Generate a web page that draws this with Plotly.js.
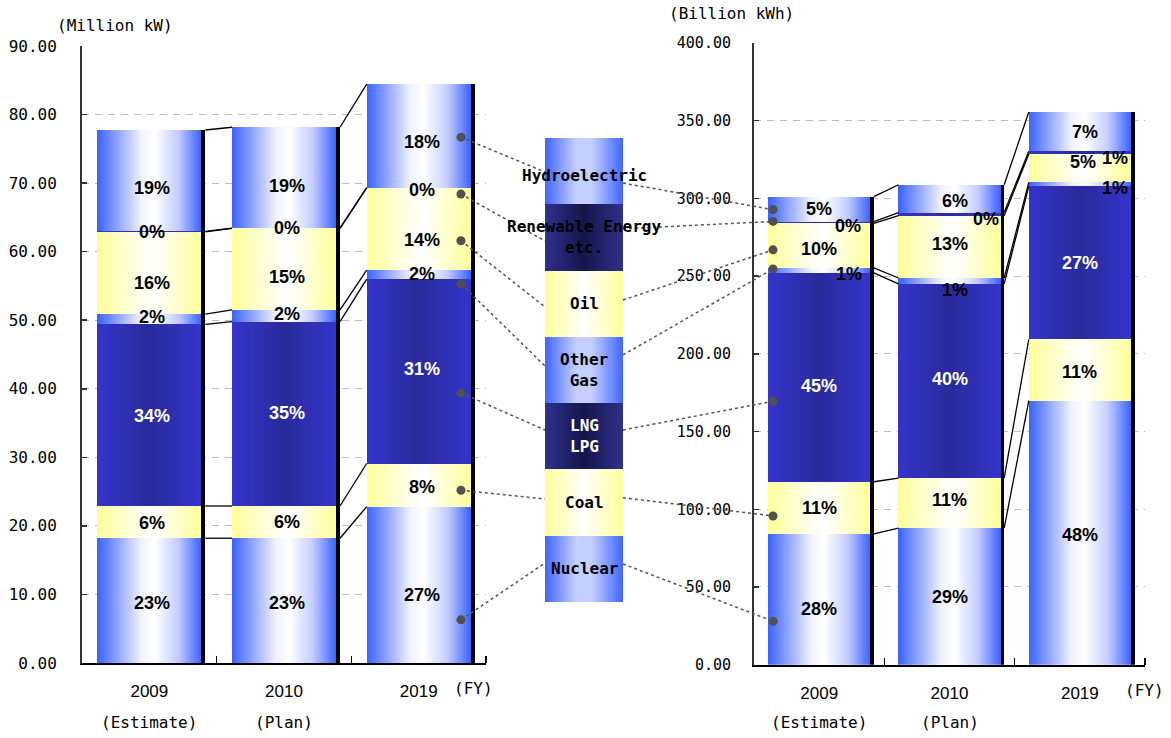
<!DOCTYPE html>
<html><head><meta charset="utf-8">
<script src="https://cdn.plot.ly/plotly-3.0.1.min.js"></script>
<style>html,body{margin:0;padding:0;background:#fff;} #chart{width:1171px;height:738px;}</style>
</head><body><div id="chart"></div>
<script>
// ---------- DATA ----------
const years = ['2009', '2010', '2019'];
const yearNotes = ['(Estimate)', '(Plan)', ''];
const sources = ['Nuclear', 'Coal', 'LNG/LPG', 'Other Gas', 'Oil', 'Renewable Energy etc.', 'Hydroelectric'];
const legendLabels = ['Nuclear', 'Coal', 'LNG<br>LPG', 'Other<br>Gas', 'Oil', 'Renewable Energy<br>etc.', 'Hydroelectric'];

// Capacity (Million kW)
const capNuclear  = [18.2, 18.2, 22.8];
const capCoal     = [4.7, 4.7, 6.3];
const capLNG      = [26.5, 26.9, 26.9];
const capOtherGas = [1.5, 1.7, 1.3];
const capOil      = [12.0, 11.9, 12.0];
const capRenew    = [0.05, 0.05, 0.05];
const capHydro    = [14.8, 14.7, 15.1];
const capPct = [
  ['23%', '23%', '27%'], ['6%', '6%', '8%'], ['34%', '35%', '31%'], ['2%', '2%', '2%'],
  ['16%', '15%', '14%'], ['0%', '0%', '0%'], ['19%', '19%', '18%']
];

// Generation (Billion kWh)
const genNuclear  = [84.1, 87.8, 169.9];
const genCoal     = [33.6, 32.3, 39.5];
const genLNG      = [134.4, 124.9, 98.5];
const genOtherGas = [3.2, 3.8, 2.4];
const genOil      = [28.7, 40.1, 18.3];
const genRenew    = [1.1, 2.0, 1.7];
const genHydro    = [16.1, 17.9, 25.3];
const genPct = [
  ['28%', '29%', '48%'], ['11%', '11%', '11%'], ['45%', '40%', '27%'], ['1%', '1%', '1%'],
  ['10%', '13%', '5%'], ['0%', '0%', '1%'], ['5%', '6%', '7%']
];

// ---------- STYLE / LAYOUT CONFIG ----------
const W = 1171, H = 738;
const gradOf    = ['blue', 'yellow', 'navy', 'blue', 'yellow', 'navy', 'blue'];
const legGradOf = ['legBlue', 'legYellow', 'legNavy', 'legBlue', 'legYellow', 'legNavy', 'legBlue'];
const fallback  = {blue: '#9fb0ff', yellow: '#ffffcc', navy: '#2f2fb4', legBlue: '#8fa5ff', legYellow: '#ffffcc', legNavy: '#222266'};
const gradients = {
  blue:      [[0, '#3B62FF'], [0.42, '#F0F2FF'], [0.55, '#FFFFFF'], [0.78, '#C3CCFF'], [1, '#3B62FF']],
  yellow:    [[0, '#FFFF99'], [0.45, '#FFFFF3'], [0.55, '#FFFFFF'], [1, '#FFFF99']],
  navy:      [[0, '#3434CC'], [0.5, '#2A2A9C'], [1, '#3434CC']],
  legBlue:   [[0, '#4066FF'], [0.4, '#C4CEFF'], [0.6, '#C4CEFF'], [1, '#4066FF']],
  legYellow: [[0, '#FFFF99'], [0.5, '#FFFFFF'], [1, '#FFFF99']],
  legNavy:   [[0, '#30308E'], [0.5, '#15154A'], [1, '#30308E']]
};
const pctColor = ['#000', '#000', '#fff', '#000', '#000', '#000', '#000'];
const pctFont = 'Liberation Sans Narrow, Arial Narrow, Arial, sans-serif';

// label nudges in px (dx right, dy down)
const capNudgeX = [[3,3,3],[3,3,3],[3,3,3],[3,3,3],[3,3,3],[3,3,3],[3,3,3]];
const capNudgeY = [[2,2,10],[1,0,2],[1,-1,-2],[-2,-2,-1],[10,8,11],[0,0,2],[7,8,6]];
const genNudgeX = [[0,0,0],[0,0,0],[0,0,0],[30,5,35],[0,0,3],[29,36,35],[0,5,5]];
const genNudgeY = [[10,1,2],[0,-3,2],[9,-2,0],[4,9,4],[3,-3,-6],[4,5,5],[0,2,0]];

// leader dots (value positions) and legend anchors (legend-axis units)
const leftDotX = 2.314, rightDotX = -0.354;
const leftDotY  = [6.3, 25.2, 39.4, 55.3, 61.6, 68.4, 76.7];
const rightDotY = [28, 95.7, 169.5, 254.6, 266.9, 285.2, 292.8];
const legAnchorL = [0.588, 1.554, 2.595, 3.56, 4.451, 5.446, 6.487];
const legAnchorR = [0.574, 1.574, 2.595, 3.727, 4.556, 5.63, 6.32];

const capSeries = [capNuclear, capCoal, capLNG, capOtherGas, capOil, capRenew, capHydro];
const genSeries = [genNuclear, genCoal, genLNG, genOtherGas, genOil, genRenew, genHydro];

const dom = {
  x:  [82 / W, 486 / W],   y:  [(H - 663) / H, (H - 46) / H],
  x2: [754 / W, 1145 / W], y2: [(H - 664.7) / H, (H - 43) / H],
  x3: [545 / W, 623 / W],  y3: [(H - 602) / H, (H - 138) / H]
};
const rng = {x: [-0.5, 2.5], y: [0, 90], x2: [-0.5, 2.5], y2: [0, 400], x3: [-0.5, 0.5], y3: [0, 7]};
function toPaper(ax, v) { const d = dom[ax], r = rng[ax]; return d[0] + (v - r[0]) / (r[1] - r[0]) * (d[1] - d[0]); }

const data = [];
const annotations = [];
const shapes = [];

function buildChart(series, pct, xa, ya, barW, shW, nx, ny) {
  const cum = [0, 0, 0];
  const bounds = [];
  series.forEach((vals, s) => {
    data.push({
      type: 'bar', x: [0, 1, 2], y: vals, base: cum.slice(), width: barW,
      xaxis: xa, yaxis: ya, meta: gradOf[s], name: sources[s],
      marker: {color: fallback[gradOf[s]], line: {width: 0}}, hoverinfo: 'skip', showlegend: false
    });
    for (let i = 0; i < 3; i++) {
      annotations.push({
        xref: xa, yref: ya, x: i, y: cum[i] + vals[i] / 2, text: pct[s][i], showarrow: false,
        xshift: nx[s][i], yshift: -ny[s][i],
        font: {family: pctFont, size: 18, weight: 'bold', color: pctColor[s]}
      });
      cum[i] += vals[i];
    }
    bounds.push(cum.slice());
  });
  // shadow strip on the right side of each bar
  data.push({
    type: 'bar', x: [0, 1, 2], y: cum.slice(), base: [0, 0, 0], width: shW, offset: barW / 2,
    xaxis: xa, yaxis: ya, marker: {color: '#000', line: {width: 0}}, hoverinfo: 'skip', showlegend: false
  });
  // connector lines between adjacent bars
  const lx = [], ly = [];
  bounds.forEach(b => {
    for (let i = 0; i < 2; i++) {
      lx.push(i + barW / 2 + shW, i + 1 - barW / 2, null);
      ly.push(b[i], b[i + 1], null);
    }
  });
  data.push({type: 'scatter', mode: 'lines', x: lx, y: ly, xaxis: xa, yaxis: ya,
    line: {color: '#000', width: 1.3}, hoverinfo: 'skip', showlegend: false, cliponaxis: false});
}

buildChart(capSeries, capPct, 'x', 'y', 0.772, 0.03, capNudgeX, capNudgeY);
buildChart(genSeries, genPct, 'x2', 'y2', 0.783, 0.028, genNudgeX, genNudgeY);

// legend column
sources.forEach((name, s) => {
  data.push({
    type: 'bar', x: [0], y: [1], base: [s], width: 1, xaxis: 'x3', yaxis: 'y3',
    meta: legGradOf[s], name: name, marker: {color: fallback[legGradOf[s]], line: {width: 0}},
    hoverinfo: 'skip', showlegend: false
  });
  annotations.push({
    xref: 'x3', yref: 'y3', x: 0, y: s + 0.5, yshift: s === 6 ? -4 : 0, text: legendLabels[s], showarrow: false,
    font: {family: 'DejaVu Sans Mono', size: 16, weight: 'bold', color: s === 2 ? '#fff' : '#000'}
  });
});

// leader dots
data.push({type: 'scatter', mode: 'markers', x: leftDotY.map(() => leftDotX), y: leftDotY, xaxis: 'x', yaxis: 'y',
  marker: {color: '#505050', size: 9}, hoverinfo: 'skip', showlegend: false, cliponaxis: false});
data.push({type: 'scatter', mode: 'markers', x: rightDotY.map(() => rightDotX), y: rightDotY, xaxis: 'x2', yaxis: 'y2',
  marker: {color: '#505050', size: 9}, hoverinfo: 'skip', showlegend: false, cliponaxis: false});

// dotted leader lines
sources.forEach((n, s) => {
  shapes.push({type: 'line', xref: 'paper', yref: 'paper',
    x0: toPaper('x', leftDotX), y0: toPaper('y', leftDotY[s]),
    x1: dom.x3[0], y1: toPaper('y3', legAnchorL[s]),
    line: {color: '#555', width: 1.5, dash: 'dot'}});
  shapes.push({type: 'line', xref: 'paper', yref: 'paper',
    x0: dom.x3[1], y0: toPaper('y3', legAnchorR[s]),
    x1: toPaper('x2', rightDotX), y1: toPaper('y2', rightDotY[s]),
    line: {color: '#555', width: 1.5, dash: 'dot'}});
});

// text annotations: units, year notes, FY
const mono = {family: 'DejaVu Sans Mono', size: 16, color: '#000'};
annotations.push({xref: 'paper', yref: 'paper', x: 55 / W, y: (H - 25) / H, xanchor: 'left', yanchor: 'middle', text: '(Million kW)', showarrow: false, font: mono});
annotations.push({xref: 'paper', yref: 'paper', x: 667 / W, y: (H - 13) / H, xanchor: 'left', yanchor: 'middle', text: '(Billion kWh)', showarrow: false, font: mono});
annotations.push({xref: 'paper', yref: 'paper', x: 473.5 / W, y: (H - 688) / H, xanchor: 'center', yanchor: 'middle', text: '(FY)', showarrow: false, font: mono});
annotations.push({xref: 'paper', yref: 'paper', x: 1144 / W, y: (H - 690) / H, xanchor: 'center', yanchor: 'middle', text: '(FY)', showarrow: false, font: mono});
yearNotes.forEach((t, i) => {
  if (!t) return;
  annotations.push({xref: 'x', yref: 'paper', x: i, y: (H - 722) / H, xanchor: 'center', yanchor: 'middle', text: t, showarrow: false, font: mono});
  annotations.push({xref: 'x2', yref: 'paper', x: i, y: (H - 722) / H, xanchor: 'center', yanchor: 'middle', text: t, showarrow: false, font: mono});
});

function xAxis(d) {
  return {domain: d, range: [-0.5, 2.5], tickmode: 'array', tickvals: [0, 1, 2], ticktext: years,
    ticks: '', showline: true, linecolor: '#000', linewidth: 2, showgrid: false, zeroline: false,
    tickfont: {family: 'Arial', size: 17, color: '#000'}, ticklabelstandoff: 12,
    minor: {tickmode: 'array', tickvals: [0.5, 1.5, 2.5], ticks: 'inside', ticklen: 7, tickcolor: '#000', tickwidth: 1.5, showgrid: false},
    fixedrange: true};
}
function yAxis(d, r, dt, anchor, fs, standoff) {
  return {domain: d, range: r, dtick: dt, tick0: 0, tickformat: '.2f', ticks: 'inside', ticklen: 5,
    tickcolor: '#333', tickwidth: 1.5, showline: true, linecolor: '#333', linewidth: 2,
    showgrid: true, gridcolor: '#BEBEBE', gridwidth: 1, griddash: '7px,6px', zeroline: false,
    tickfont: {family: 'DejaVu Sans Mono', size: fs, color: '#000'}, ticklabelstandoff: standoff,
    anchor: anchor, fixedrange: true};
}

const layout = {
  width: W, height: H, margin: {l: 0, r: 0, t: 0, b: 0},
  paper_bgcolor: '#fff', plot_bgcolor: 'rgba(0,0,0,0)',
  barmode: 'overlay', bargap: 0, showlegend: false,
  xaxis: Object.assign(xAxis(dom.x), {anchor: 'y'}),
  yaxis: yAxis(dom.y, rng.y, 10, 'x', 16, 20),
  xaxis2: Object.assign(xAxis(dom.x2), {anchor: 'y2'}),
  yaxis2: yAxis(dom.y2, rng.y2, 50, 'x2', 15, 18),
  xaxis3: {domain: dom.x3, range: rng.x3, visible: false, anchor: 'y3', fixedrange: true},
  yaxis3: {domain: dom.y3, range: rng.y3, visible: false, anchor: 'x3', fixedrange: true},
  annotations: annotations, shapes: shapes
};

Plotly.newPlot('chart', data, layout, {staticPlot: true, displayModeBar: false}).then(gd => {
  const NS = 'http://www.w3.org/2000/svg';
  const svg = gd.querySelector('svg.main-svg');
  let defs = svg.querySelector('defs');
  if (!defs) { defs = document.createElementNS(NS, 'defs'); svg.insertBefore(defs, svg.firstChild); }
  Object.keys(gradients).forEach(id => {
    const lg = document.createElementNS(NS, 'linearGradient');
    lg.setAttribute('id', 'grad-' + id);
    lg.setAttribute('x1', '0'); lg.setAttribute('y1', '0'); lg.setAttribute('x2', '1'); lg.setAttribute('y2', '0');
    gradients[id].forEach(([o, c]) => {
      const st = document.createElementNS(NS, 'stop');
      st.setAttribute('offset', o); st.setAttribute('stop-color', c);
      lg.appendChild(st);
    });
    defs.appendChild(lg);
  });
  gd.querySelectorAll('g.trace.bars').forEach(g => {
    const cd = g.__data__;
    const tr = cd && cd[0] && cd[0].trace;
    if (tr && tr.meta && gradients[tr.meta]) {
      g.querySelectorAll('path').forEach(p => { p.style.fill = 'url(#grad-' + tr.meta + ')'; });
    }
  });
});
</script>
</body></html>
